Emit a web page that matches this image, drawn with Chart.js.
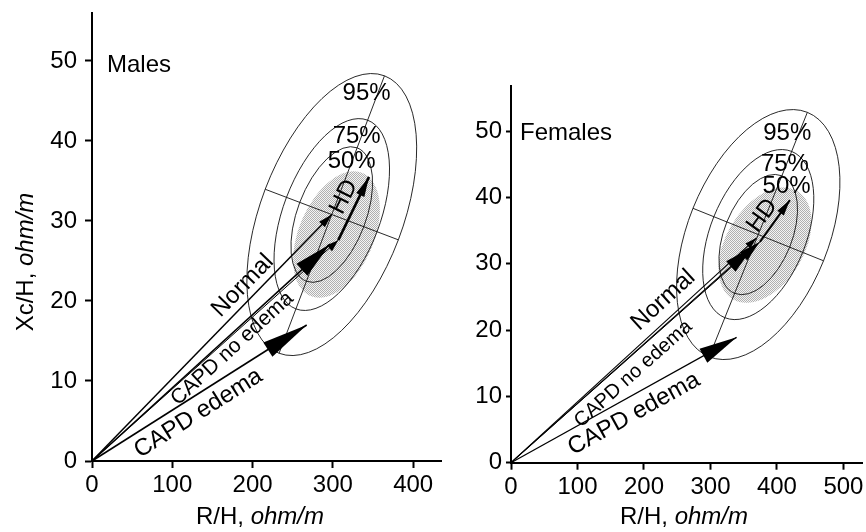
<!DOCTYPE html>
<html><head><meta charset="utf-8">
<script src="https://cdn.jsdelivr.net/npm/chart.js@4.4.1/dist/chart.umd.min.js"></script>
<style>
html,body{margin:0;padding:0;background:#fff;}
#wrap{position:relative;width:866px;height:532px;overflow:hidden;background:#fff;}
canvas{position:absolute;top:0;}
</style></head><body>
<div id="wrap">
<canvas id="males" width="444" height="532" style="left:0"></canvas>
<canvas id="females" width="422" height="532" style="left:444px"></canvas>
</div>
<script>
// ---------- data ----------
const groups = ['Normal', 'CAPD no edema', 'CAPD edema', 'HD pre', 'HD post'];
const malesR    = [298.6, 296.4, 267.4, 306.7, 345.0];
const malesXc   = [30.8, 27.1, 17.0, 27.6, 35.5];
const femalesR  = [369.5, 364.4, 339.4, 374.4, 419.5];
const femalesXc = [33.9, 32.6, 18.9, 33.3, 39.6];
// reference tolerance ellipses: mean R/H, mean Xc/H, SD R/H, SD Xc/H, r
const malesRef   = [298.6, 30.8, 43.2, 7.2, 0.47];
const femalesRef = [371.9, 34.4, 50.2, 7.7, 0.42];
// shaded (dotted) ellipse
const malesShade   = [304.5, 28.3, 54, 7.9, 0.40];
const femalesShade = [382.0, 32.8, 70, 8.7, 0.40];
const tolerance = [50, 75, 95];
const yTicks = [0, 10, 20, 30, 40, 50];
const xTicksMales = [0, 100, 200, 300, 400];
const xTicksFemales = [0, 100, 200, 300, 400, 500];

const FONT = "'Liberation Sans', Arial, Helvetica, sans-serif";
const FS = 24;

function makePattern(ctx) {
  const c = document.createElement('canvas'); c.width = 2; c.height = 2;
  const g = c.getContext('2d');
  g.fillStyle = '#f4f4f4'; g.fillRect(0, 0, 2, 2);
  g.fillStyle = '#b0b0b0'; g.fillRect(0, 0, 1, 1); g.fillRect(1, 1, 1, 1);
  return ctx.createPattern(c, 'repeat');
}

function ellipseGeom(chart, p) {
  const xs = chart.scales.x, ys = chart.scales.y;
  const cx = xs.getPixelForValue(p[0]), cy = ys.getPixelForValue(p[1]);
  const fx = xs.getPixelForValue(p[0] + 1) - cx, fy = ys.getPixelForValue(p[1] + 1) - cy;
  const a = Math.pow(p[2] * fx, 2), d = Math.pow(p[3] * fy, 2), b = p[4] * p[2] * p[3] * fx * fy;
  const tr = a + d, det = a * d - b * b;
  const disc = Math.sqrt(Math.max(tr * tr / 4 - det, 0));
  const l1 = tr / 2 + disc, l2 = tr / 2 - disc;
  const th = Math.atan2(l1 - a, b);
  return {cx, cy, s1: Math.sqrt(l1), s2: Math.sqrt(l2), th};
}
const kOf = p => Math.sqrt(-2 * Math.log(1 - p / 100));

function makeChart(id, cfg) {
  const R = cfg.R, Xc = cfg.Xc;
  const seg = (i, j) => [{x: j === undefined ? 0 : R[j], y: j === undefined ? 0 : Xc[j]}, {x: R[i], y: Xc[i]}];
  const ds = (data, w, arrow) => ({data, showLine: true, borderColor: '#000', borderWidth: w,
    pointRadius: 0, pointHoverRadius: 0, fill: false, clip: false, arrow});
  const A = cfg.arrows;
  const datasets = [
    ds(seg(0), cfg.lw[0], A[0]),
    ds(seg(1), cfg.lw[1], A[1]),
    ds(seg(2), cfg.lw[2], A[2]),
    ds(seg(3), cfg.lw[3], A[3]),
    ds(seg(4, 3), cfg.lw[4], A[4])
  ];

  const plugin = {
    id: 'biva_' + id,
    beforeDatasetsDraw(chart) {
      const ctx = chart.ctx;
      ctx.save();
      const g = ellipseGeom(chart, cfg.shade);
      ctx.beginPath(); ctx.ellipse(g.cx, g.cy, g.s1, g.s2, g.th, 0, Math.PI * 2);
      ctx.fillStyle = makePattern(ctx); ctx.fill();
      const e = ellipseGeom(chart, cfg.ref);
      ctx.strokeStyle = '#111'; ctx.lineWidth = 0.9;
      tolerance.forEach(p => {
        const k = kOf(p);
        ctx.beginPath(); ctx.ellipse(e.cx, e.cy, k * e.s1, k * e.s2, e.th, 0, Math.PI * 2); ctx.stroke();
      });
      const k95 = kOf(95);
      const c = Math.cos(e.th), s = Math.sin(e.th);
      ctx.beginPath();
      ctx.moveTo(e.cx - k95 * e.s1 * c, e.cy - k95 * e.s1 * s);
      ctx.lineTo(e.cx + k95 * e.s1 * c, e.cy + k95 * e.s1 * s);
      ctx.moveTo(e.cx + k95 * e.s2 * s, e.cy - k95 * e.s2 * c);
      ctx.lineTo(e.cx - k95 * e.s2 * s, e.cy + k95 * e.s2 * c);
      ctx.stroke();
      ctx.restore();
    },
    afterDatasetsDraw(chart) {
      const ctx = chart.ctx, xs = chart.scales.x, ys = chart.scales.y;
      ctx.save();
      chart.data.datasets.forEach((d, i) => {
        const m = chart.getDatasetMeta(i).data;
        const p0 = m[0], p1 = m[1];
        const ang = Math.atan2(p1.y - p0.y, p1.x - p0.x);
        const L = d.arrow[0], H = d.arrow[1];
        const bx = p1.x - L * Math.cos(ang), by = p1.y - L * Math.sin(ang);
        ctx.beginPath();
        ctx.moveTo(p1.x, p1.y);
        ctx.lineTo(bx - H * Math.sin(ang), by + H * Math.cos(ang));
        ctx.lineTo(bx + H * Math.sin(ang), by - H * Math.cos(ang));
        ctx.closePath(); ctx.fillStyle = '#000'; ctx.fill();
      });
      ctx.fillStyle = '#000'; ctx.textBaseline = 'middle';
      cfg.labels.forEach(l => {
        const px = xs.getPixelForValue(l.x), py = ys.getPixelForValue(l.y);
        let ang = 0;
        if (l.vec !== undefined) {
          const m = chart.getDatasetMeta(l.vec).data;
          ang = Math.atan2(m[1].y - m[0].y, m[1].x - m[0].x);
        }
        ctx.save(); ctx.translate(px, py); ctx.rotate(ang);
        ctx.font = (l.size || FS) + 'px ' + FONT;
        ctx.textAlign = l.align || 'center';
        ctx.fillText(l.t, 0, 0);
        ctx.restore();
      });
      ctx.restore();
    },
    afterDraw(chart) {
      const ctx = chart.ctx;
      ctx.save(); ctx.fillStyle = '#000'; ctx.textBaseline = 'alphabetic';
      const drawMixed = (parts, cx, cy, rot) => {
        const fonts = parts.map(p => (p[1] ? 'italic ' : '') + FS + 'px ' + FONT);
        let w = 0; const ws = parts.map((p, i) => { ctx.font = fonts[i]; const v = ctx.measureText(p[0]).width; w += v; return v; });
        ctx.save(); ctx.translate(cx, cy); ctx.rotate(rot);
        let x = -w / 2; ctx.textAlign = 'left';
        parts.forEach((p, i) => { ctx.font = fonts[i]; ctx.fillText(p[0], x, 0); x += ws[i]; });
        ctx.restore();
      };
      drawMixed([['R/H, ', false], ['ohm/m', true]], cfg.xTitle[0], cfg.xTitle[1], 0);
      if (cfg.yTitle) drawMixed([['Xc/H, ', false], ['ohm/m', true]], cfg.yTitle[0], cfg.yTitle[1], -Math.PI / 2);
      ctx.restore();
    }
  };

  const tickFont = {family: FONT, size: FS};
  return new Chart(document.getElementById(id), {
    type: 'scatter',
    data: {datasets},
    options: {
      responsive: false, animation: false, events: [],
      layout: {padding: cfg.pad},
      plugins: {legend: {display: false}, tooltip: {enabled: false}},
      scales: {
        x: {type: 'linear', min: 0, max: cfg.xMax,
          afterFit: s => { s.height = cfg.bottomH; s.paddingLeft = 0; s.paddingRight = 0; },
          afterBuildTicks: s => { s.ticks = cfg.xTicks.map(v => ({value: v})); },
          ticks: {font: tickFont, color: '#000', padding: cfg.xPad, maxRotation: 0, autoSkip: false},
          grid: {drawOnChartArea: false, drawTicks: true, tickLength: 7, tickWidth: 2, tickColor: '#000'},
          border: {display: true, color: '#000', width: 2}},
        y: {type: 'linear', min: 0, max: cfg.yMax,
          afterFit: s => { s.width = cfg.leftW; s.paddingTop = 0; s.paddingBottom = 0; },
          afterBuildTicks: s => { s.ticks = yTicks.map(v => ({value: v})); },
          ticks: {font: tickFont, color: '#000', padding: cfg.yPad, autoSkip: false},
          grid: {drawOnChartArea: false, drawTicks: true, tickLength: cfg.yTick, tickWidth: 2, tickColor: '#000'},
          border: {display: true, color: '#000', width: 2}}
      }
    },
    plugins: [plugin]
  });
}

makeChart('males', {
  R: malesR, Xc: malesXc, ref: malesRef, shade: malesShade,
  xMax: 435.5, yMax: 56, xTicks: xTicksMales,
  pad: {top: 12.9, right: 2.3, left: 0, bottom: 0}, bottomH: 71, leftW: 92,
  xPad: 3, yPad: 8, yTick: 7,
  lw: [1.5, 1.6, 1.6, 1.0, 2.6],
  arrows: [[14, 4], [38, 8], [46, 8.5], [12, 4], [20, 4.5]],
  xTitle: [260, 524], yTitle: [33, 262],
  labels: [
    {t: 'Males', x: 18.7, y: 49.4, align: 'left'},
    {t: '95%', x: 342, y: 46.0}, {t: '75%', x: 329.6, y: 40.6}, {t: '50%', x: 323.4, y: 37.4},
    {t: 'HD', x: 313.8, y: 33.0, vec: 4},
    {t: 'Normal', x: 187.7, y: 21.9, vec: 0},
    {t: 'CAPD no edema', x: 174.7, y: 14.05, vec: 1, size: 21},
    {t: 'CAPD edema', x: 132.4, y: 5.96, vec: 2}
  ]
});

makeChart('females', {
  R: femalesR, Xc: femalesXc, ref: femalesRef, shade: femalesShade,
  xMax: 529, yMax: 56.8, xTicks: xTicksFemales,
  pad: {top: 86, right: 3.3, left: 0, bottom: 0}, bottomH: 69.3, leftW: 67,
  xPad: 3, yPad: 4, yTick: 5,
  lw: [1.1, 1.1, 1.2, 1.0, 2.0],
  arrows: [[12, 3.5], [30, 7], [38, 8], [22, 5.5], [16, 4]],
  xTitle: [684 - 444, 524], yTitle: null,
  labels: [
    {t: 'Females', x: 13.5, y: 49.6, align: 'left'},
    {t: '95%', x: 415.5, y: 49.6}, {t: '75%', x: 412, y: 45.05}, {t: '50%', x: 414.6, y: 41.7},
    {t: 'HD', x: 377.9, y: 37.25, vec: 4},
    {t: 'Normal', x: 229, y: 24.5, vec: 0},
    {t: 'CAPD no edema', x: 184, y: 13.4, vec: 1, size: 20},
    {t: 'CAPD edema', x: 185, y: 7.35, vec: 2}
  ]
});
</script>
</body></html>
